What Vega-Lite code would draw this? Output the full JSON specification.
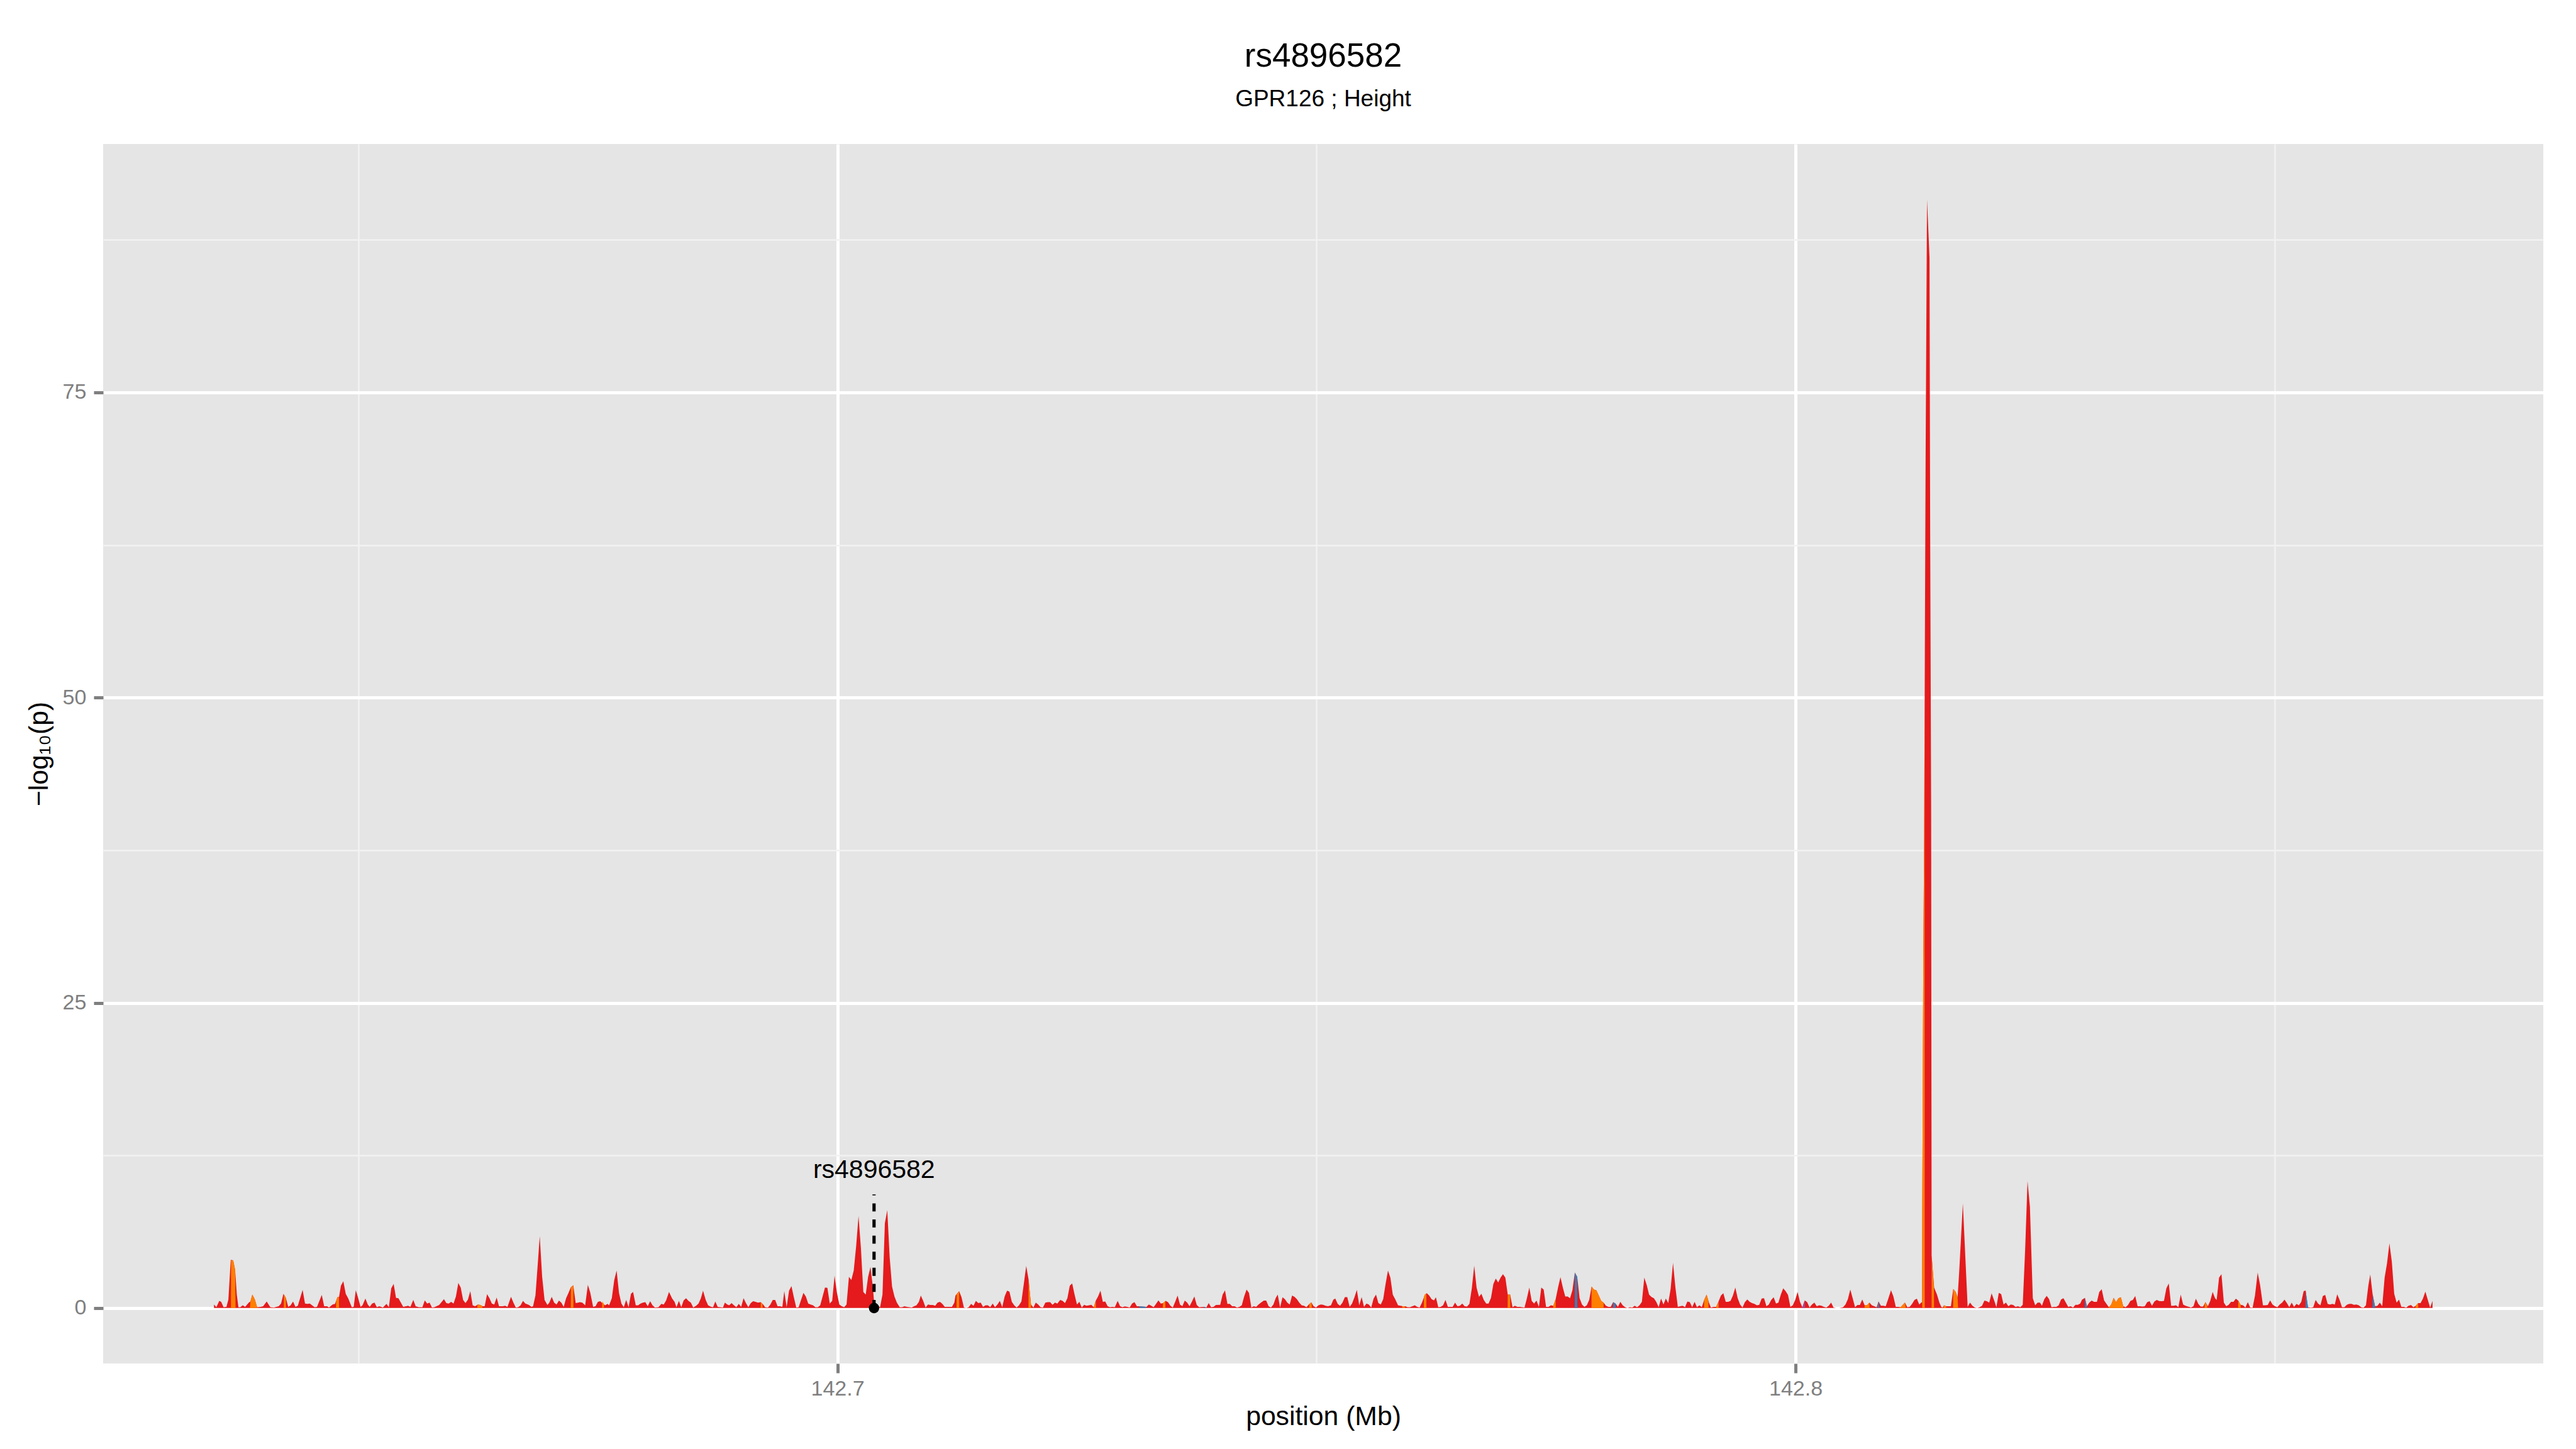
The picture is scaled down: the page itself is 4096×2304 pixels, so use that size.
{
"$schema": "https://vega.github.io/schema/vega-lite/v6.json",
"width": 3880,
"height": 1939,
"autosize": {"type": "none"},
"padding": {"left": 164, "top": 229, "right": 52, "bottom": 136},
"background": "white",
"config": {"view": {"fill": "#E5E5E5", "stroke": null}},
"title": {"text": "rs4896582", "subtitle": "GPR126 ; Height", "anchor": "middle", "frame": "group", "font": "Liberation Sans", "fontSize": 53, "fontWeight": "normal", "color": "#000000", "subtitleFont": "Liberation Sans", "subtitleFontSize": 37, "subtitleColor": "#000000", "subtitlePadding": 23, "offset": 53},
"datasets": {
"main": [
{"pos":142.63493,"p":0.29},{"pos":142.63518,"p":0.07},{"pos":142.63548,"p":0.59},{"pos":142.63568,"p":0.51},{"pos":142.63593,"p":0.07},{"pos":142.63623,"p":0.10},{"pos":142.63643,"p":0.69},{"pos":142.63668,"p":3.95},{"pos":142.63693,"p":3.91},{"pos":142.63713,"p":3.15},{"pos":142.63731,"p":1.10},{"pos":142.63748,"p":0.07},{"pos":142.63768,"p":0.07},{"pos":142.63793,"p":0.22},{"pos":142.63818,"p":0.10},{"pos":142.63856,"p":0.44},{"pos":142.63873,"p":0.54},{"pos":142.63893,"p":1.10},{"pos":142.63918,"p":0.73},{"pos":142.63943,"p":0.07},{"pos":142.63981,"p":0.10},{"pos":142.64006,"p":0.15},{"pos":142.64043,"p":0.54},{"pos":142.64081,"p":0.07},{"pos":142.64118,"p":0.04},{"pos":142.64168,"p":0.15},{"pos":142.64193,"p":0.37},{"pos":142.64218,"p":1.17},{"pos":142.64243,"p":0.83},{"pos":142.64268,"p":0.10},{"pos":142.64293,"p":0.22},{"pos":142.64318,"p":0.54},{"pos":142.64343,"p":0.10},{"pos":142.64368,"p":0.19},{"pos":142.64418,"p":1.49},{"pos":142.64443,"p":0.37},{"pos":142.64468,"p":0.34},{"pos":142.64493,"p":0.37},{"pos":142.64543,"p":0.07},{"pos":142.64568,"p":0.10},{"pos":142.64618,"p":1.07},{"pos":142.64643,"p":0.15},{"pos":142.64673,"p":0.15},{"pos":142.64693,"p":0.04},{"pos":142.64731,"p":0.29},{"pos":142.64756,"p":0.34},{"pos":142.64781,"p":0.88},{"pos":142.64798,"p":0.92},{"pos":142.64818,"p":1.83},{"pos":142.64843,"p":2.20},{"pos":142.64868,"p":1.17},{"pos":142.64893,"p":0.81},{"pos":142.64931,"p":0.07},{"pos":142.64951,"p":0.10},{"pos":142.64973,"p":1.46},{"pos":142.64993,"p":0.95},{"pos":142.65023,"p":0.10},{"pos":142.65043,"p":0.22},{"pos":142.65073,"p":0.78},{"pos":142.65098,"p":0.29},{"pos":142.65118,"p":0.10},{"pos":142.65143,"p":0.37},{"pos":142.65168,"p":0.44},{"pos":142.65193,"p":0.07},{"pos":142.65218,"p":0.15},{"pos":142.65256,"p":0.04},{"pos":142.65293,"p":0.34},{"pos":142.65318,"p":0.07},{"pos":142.65343,"p":1.61},{"pos":142.65368,"p":1.98},{"pos":142.65393,"p":0.83},{"pos":142.65418,"p":0.81},{"pos":142.65468,"p":0.10},{"pos":142.65518,"p":0.19},{"pos":142.65543,"p":0.10},{"pos":142.65573,"p":0.66},{"pos":142.65598,"p":0.15},{"pos":142.65631,"p":0.07},{"pos":142.65668,"p":0.07},{"pos":142.65693,"p":0.63},{"pos":142.65718,"p":0.37},{"pos":142.65743,"p":0.44},{"pos":142.65768,"p":0.04},{"pos":142.65793,"p":0.07},{"pos":142.65843,"p":0.25},{"pos":142.65893,"p":0.73},{"pos":142.65918,"p":0.40},{"pos":142.65943,"p":0.37},{"pos":142.65968,"p":0.51},{"pos":142.65993,"p":0.37},{"pos":142.66018,"p":0.95},{"pos":142.66043,"p":2.05},{"pos":142.66068,"p":1.68},{"pos":142.66093,"p":0.66},{"pos":142.66118,"p":0.40},{"pos":142.66143,"p":0.69},{"pos":142.66168,"p":1.39},{"pos":142.66193,"p":0.22},{"pos":142.66218,"p":0.15},{"pos":142.66248,"p":0.29},{"pos":142.66273,"p":0.25},{"pos":142.66298,"p":0.15},{"pos":142.66318,"p":0.15},{"pos":142.66343,"p":1.14},{"pos":142.66368,"p":0.81},{"pos":142.66393,"p":0.37},{"pos":142.66418,"p":0.29},{"pos":142.66443,"p":0.85},{"pos":142.66468,"p":0.15},{"pos":142.66506,"p":0.15},{"pos":142.66531,"p":0.19},{"pos":142.66556,"p":0.10},{"pos":142.66593,"p":0.92},{"pos":142.66618,"p":0.44},{"pos":142.66643,"p":0.04},{"pos":142.66668,"p":0.07},{"pos":142.66693,"p":0.22},{"pos":142.66718,"p":0.59},{"pos":142.66743,"p":0.37},{"pos":142.66781,"p":0.25},{"pos":142.66806,"p":0.10},{"pos":142.66823,"p":0.15},{"pos":142.66848,"p":1.02},{"pos":142.66868,"p":3.15},{"pos":142.66893,"p":5.89},{"pos":142.66918,"p":2.56},{"pos":142.66943,"p":0.66},{"pos":142.66973,"p":0.25},{"pos":142.66993,"p":0.44},{"pos":142.67018,"p":0.92},{"pos":142.67043,"p":0.44},{"pos":142.67068,"p":0.29},{"pos":142.67093,"p":0.61},{"pos":142.67118,"p":0.44},{"pos":142.67143,"p":0.10},{"pos":142.67168,"p":0.81},{"pos":142.67193,"p":1.24},{"pos":142.67218,"p":1.71},{"pos":142.67243,"p":1.86},{"pos":142.67268,"p":0.40},{"pos":142.67293,"p":0.44},
{"pos":142.67312,"p":0.48},{"pos":142.67337,"p":0.44},{"pos":142.67367,"p":0.22},{"pos":142.67395,"p":1.90},{"pos":142.67420,"p":1.27},{"pos":142.67450,"p":0.10},{"pos":142.67475,"p":0.15},{"pos":142.67500,"p":0.51},{"pos":142.67525,"p":0.56},{"pos":142.67550,"p":0.37},{"pos":142.67575,"p":0.22},{"pos":142.67600,"p":0.34},{"pos":142.67617,"p":0.22},{"pos":142.67645,"p":0.81},{"pos":142.67670,"p":2.27},{"pos":142.67695,"p":3.07},{"pos":142.67720,"p":1.24},{"pos":142.67745,"p":0.37},{"pos":142.67770,"p":0.07},{"pos":142.67795,"p":0.66},{"pos":142.67820,"p":0.07},{"pos":142.67845,"p":1.17},{"pos":142.67867,"p":1.32},{"pos":142.67895,"p":0.22},{"pos":142.67920,"p":0.22},{"pos":142.67945,"p":0.37},{"pos":142.67970,"p":0.44},{"pos":142.67995,"p":0.48},{"pos":142.68020,"p":0.15},{"pos":142.68045,"p":0.56},{"pos":142.68070,"p":0.22},{"pos":142.68095,"p":0.04},{"pos":142.68132,"p":0.07},{"pos":142.68162,"p":0.34},{"pos":142.68187,"p":0.29},{"pos":142.68212,"p":0.63},{"pos":142.68242,"p":1.32},{"pos":142.68275,"p":0.78},{"pos":142.68300,"p":0.51},{"pos":142.68320,"p":0.07},{"pos":142.68345,"p":0.59},{"pos":142.68370,"p":0.07},{"pos":142.68395,"p":0.63},{"pos":142.68420,"p":0.81},{"pos":142.68445,"p":0.59},{"pos":142.68470,"p":0.44},{"pos":142.68495,"p":0.04},{"pos":142.68525,"p":0.19},{"pos":142.68550,"p":0.37},{"pos":142.68575,"p":0.81},{"pos":142.68597,"p":1.42},{"pos":142.68625,"p":0.66},{"pos":142.68650,"p":0.22},{"pos":142.68682,"p":0.10},{"pos":142.68702,"p":0.07},{"pos":142.68725,"p":0.54},{"pos":142.68750,"p":0.10},{"pos":142.68775,"p":0.07},{"pos":142.68805,"p":0.04},{"pos":142.68825,"p":0.44},{"pos":142.68850,"p":0.29},{"pos":142.68870,"p":0.22},{"pos":142.68895,"p":0.40},{"pos":142.68920,"p":0.22},{"pos":142.68945,"p":0.07},{"pos":142.68970,"p":0.34},{"pos":142.68995,"p":0.10},{"pos":142.69020,"p":0.81},{"pos":142.69045,"p":0.40},{"pos":142.69070,"p":0.07},{"pos":142.69095,"p":0.40},{"pos":142.69120,"p":0.56},{"pos":142.69145,"p":0.51},{"pos":142.69170,"p":0.44},{"pos":142.69200,"p":0.48},{"pos":142.69225,"p":0.29},{"pos":142.69245,"p":0.07},{"pos":142.69275,"p":0.04},{"pos":142.69300,"p":0.29},{"pos":142.69325,"p":0.66},{"pos":142.69350,"p":0.66},{"pos":142.69375,"p":0.15},{"pos":142.69400,"p":0.15},{"pos":142.69425,"p":0.10},{"pos":142.69445,"p":1.39},{"pos":142.69470,"p":0.07},{"pos":142.69495,"p":1.42},{"pos":142.69520,"p":1.80},{"pos":142.69545,"p":0.88},{"pos":142.69570,"p":0.04},{"pos":142.69595,"p":0.07},{"pos":142.69620,"p":0.66},{"pos":142.69645,"p":1.24},{"pos":142.69670,"p":0.95},{"pos":142.69695,"p":0.37},{"pos":142.69720,"p":0.29},{"pos":142.69745,"p":0.22},{"pos":142.69770,"p":0.07},{"pos":142.69795,"p":0.07},{"pos":142.69820,"p":0.22},{"pos":142.69845,"p":0.95},{"pos":142.69870,"p":1.68},{"pos":142.69895,"p":1.65},{"pos":142.69920,"p":0.37},{"pos":142.69945,"p":0.59},{"pos":142.69970,"p":2.64},{"pos":142.69995,"p":1.24},{"pos":142.70020,"p":0.29},{"pos":142.70045,"p":0.15},{"pos":142.70070,"p":0.07},{"pos":142.70095,"p":0.29},{"pos":142.70120,"p":2.56},{"pos":142.70145,"p":2.30},{"pos":142.70170,"p":3.07},{"pos":142.70195,"p":5.05},{"pos":142.70220,"p":7.54},{"pos":142.70245,"p":4.90},{"pos":142.70270,"p":1.32},{"pos":142.70295,"p":1.10},{"pos":142.70320,"p":2.56},{"pos":142.70345,"p":3.37},{"pos":142.70370,"p":1.68},{"pos":142.70387,"p":0.07},{"pos":142.70420,"p":0.15},{"pos":142.70445,"p":0.07},{"pos":142.70470,"p":1.10},{"pos":142.70495,"p":6.95},{"pos":142.70520,"p":8.01},{"pos":142.70545,"p":4.17},{"pos":142.70570,"p":1.76},{"pos":142.70595,"p":0.95},{"pos":142.70620,"p":0.44},{"pos":142.70650,"p":0.07},{"pos":142.70675,"p":0.07},{"pos":142.70700,"p":0.15},{"pos":142.70725,"p":0.10},{"pos":142.70750,"p":0.07},{"pos":142.70775,"p":0.04},{"pos":142.70800,"p":0.15},{"pos":142.70825,"p":0.22},{"pos":142.70850,"p":0.51},{"pos":142.70870,"p":1.02},{"pos":142.70895,"p":0.59},{"pos":142.70920,"p":0.04},{"pos":142.70945,"p":0.29},{"pos":142.70970,"p":0.25},{"pos":142.70995,"p":0.25},{"pos":142.71020,"p":0.19},{"pos":142.71045,"p":0.44},{"pos":142.71070,"p":0.51},{"pos":142.71095,"p":0.34},{"pos":142.71120,"p":0.10},{"pos":142.71145,"p":0.10},{"pos":142.71170,"p":0.10},{"pos":142.71195,"p":0.10},{"pos":142.71220,"p":0.44},
{"pos":142.71232,"p":1.02},{"pos":142.71270,"p":1.39},{"pos":142.71295,"p":0.88},{"pos":142.71320,"p":0.04},{"pos":142.71345,"p":0.00},{"pos":142.71370,"p":0.07},{"pos":142.71395,"p":0.34},{"pos":142.71420,"p":0.19},{"pos":142.71445,"p":0.59},{"pos":142.71470,"p":0.40},{"pos":142.71495,"p":0.44},{"pos":142.71520,"p":0.10},{"pos":142.71545,"p":0.22},{"pos":142.71570,"p":0.22},{"pos":142.71595,"p":0.07},{"pos":142.71620,"p":0.37},{"pos":142.71645,"p":0.07},{"pos":142.71670,"p":0.29},{"pos":142.71695,"p":0.59},{"pos":142.71720,"p":0.07},{"pos":142.71745,"p":0.95},{"pos":142.71770,"p":1.42},{"pos":142.71795,"p":1.35},{"pos":142.71820,"p":0.51},{"pos":142.71845,"p":0.22},{"pos":142.71870,"p":0.04},{"pos":142.71895,"p":0.22},{"pos":142.71920,"p":0.54},{"pos":142.71945,"p":1.98},{"pos":142.71970,"p":3.44},{"pos":142.71995,"p":2.34},{"pos":142.72020,"p":0.29},{"pos":142.72045,"p":0.04},{"pos":142.72070,"p":0.44},{"pos":142.72095,"p":0.29},{"pos":142.72120,"p":0.07},{"pos":142.72145,"p":0.04},{"pos":142.72170,"p":0.44},{"pos":142.72195,"p":0.48},{"pos":142.72220,"p":0.48},{"pos":142.72245,"p":0.26},{"pos":142.72270,"p":0.44},{"pos":142.72295,"p":0.37},{"pos":142.72325,"p":0.66},{"pos":142.72350,"p":0.59},{"pos":142.72375,"p":0.40},{"pos":142.72400,"p":0.81},{"pos":142.72425,"p":1.83},{"pos":142.72450,"p":2.01},{"pos":142.72475,"p":1.10},{"pos":142.72500,"p":0.29},{"pos":142.72525,"p":0.51},{"pos":142.72550,"p":0.04},{"pos":142.72575,"p":0.26},{"pos":142.72600,"p":0.19},{"pos":142.72625,"p":0.22},{"pos":142.72650,"p":0.26},{"pos":142.72675,"p":0.07},{"pos":142.72695,"p":0.59},{"pos":142.72720,"p":0.95},{"pos":142.72745,"p":1.42},{"pos":142.72770,"p":0.51},{"pos":142.72795,"p":0.54},{"pos":142.72820,"p":0.15},{"pos":142.72845,"p":0.07},{"pos":142.72870,"p":0.10},{"pos":142.72895,"p":0.07},{"pos":142.72925,"p":0.59},{"pos":142.72950,"p":0.15},{"pos":142.72975,"p":0.07},{"pos":142.73000,"p":0.13},{"pos":142.73025,"p":0.10},{"pos":142.73050,"p":0.04},{"pos":142.73075,"p":0.37},{"pos":142.73100,"p":0.48},{"pos":142.73125,"p":0.15},{"pos":142.73150,"p":0.15},{"pos":142.73225,"p":0.10},{"pos":142.73250,"p":0.29},{"pos":142.73275,"p":0.19},{"pos":142.73300,"p":0.07},{"pos":142.73325,"p":0.34},{"pos":142.73350,"p":0.63},{"pos":142.73375,"p":0.37},{"pos":142.73400,"p":0.40},{"pos":142.73425,"p":0.59},{"pos":142.73450,"p":0.48},{"pos":142.73475,"p":0.19},{"pos":142.73500,"p":0.04},{"pos":142.73525,"p":0.51},{"pos":142.73550,"p":1.02},{"pos":142.73575,"p":0.29},{"pos":142.73600,"p":0.15},{"pos":142.73625,"p":0.61},{"pos":142.73650,"p":0.44},{"pos":142.73675,"p":0.15},{"pos":142.73700,"p":0.54},{"pos":142.73725,"p":0.95},{"pos":142.73750,"p":0.25},{"pos":142.73775,"p":0.07},{"pos":142.73825,"p":0.10},{"pos":142.73850,"p":0.04},{"pos":142.73875,"p":0.40},{"pos":142.73900,"p":0.07},{"pos":142.73925,"p":0.10},{"pos":142.73950,"p":0.25},{"pos":142.73995,"p":0.26},{"pos":142.74020,"p":1.10},{"pos":142.74045,"p":1.45},{"pos":142.74070,"p":0.34},{"pos":142.74095,"p":0.34},{"pos":142.74120,"p":0.15},{"pos":142.74145,"p":0.15},{"pos":142.74170,"p":0.04},{"pos":142.74195,"p":0.10},{"pos":142.74220,"p":0.22},{"pos":142.74245,"p":0.95},{"pos":142.74270,"p":1.51},{"pos":142.74295,"p":1.24},{"pos":142.74320,"p":0.04},{"pos":142.74345,"p":0.15},{"pos":142.74370,"p":0.10},{"pos":142.74395,"p":0.29},{"pos":142.74420,"p":0.44},{"pos":142.74450,"p":0.61},{"pos":142.74475,"p":0.61},{"pos":142.74500,"p":0.15},{"pos":142.74525,"p":0.04},{"pos":142.74550,"p":0.29},{"pos":142.74575,"p":0.83},{"pos":142.74595,"p":1.10},{"pos":142.74620,"p":0.04},{"pos":142.74645,"p":0.88},{"pos":142.74670,"p":0.73},{"pos":142.74695,"p":0.44},{"pos":142.74720,"p":0.29},{"pos":142.74745,"p":1.02},{"pos":142.74770,"p":0.92},{"pos":142.74795,"p":0.73},{"pos":142.74820,"p":0.44},{"pos":142.74845,"p":0.22},{"pos":142.74870,"p":0.19},{"pos":142.74895,"p":0.07},{"pos":142.74920,"p":0.29},{"pos":142.74945,"p":0.47},{"pos":142.74970,"p":0.15},{"pos":142.74995,"p":0.04},{"pos":142.75020,"p":0.22},{"pos":142.75045,"p":0.29},{"pos":142.75070,"p":0.26},{"pos":142.75095,"p":0.19},{"pos":142.75120,"p":0.15},
{"pos":142.75151,"p":0.22},{"pos":142.75176,"p":0.69},{"pos":142.75196,"p":0.78},{"pos":142.75221,"p":0.34},{"pos":142.75246,"p":0.19},{"pos":142.75271,"p":0.44},{"pos":142.75296,"p":0.89},{"pos":142.75321,"p":0.89},{"pos":142.75346,"p":0.10},{"pos":142.75371,"p":0.37},{"pos":142.75396,"p":0.88},{"pos":142.75421,"p":1.49},{"pos":142.75446,"p":0.22},{"pos":142.75471,"p":0.89},{"pos":142.75496,"p":0.10},{"pos":142.75521,"p":0.37},{"pos":142.75546,"p":0.29},{"pos":142.75571,"p":0.04},{"pos":142.75596,"p":0.78},{"pos":142.75621,"p":1.10},{"pos":142.75646,"p":0.40},{"pos":142.75671,"p":0.29},{"pos":142.75696,"p":0.73},{"pos":142.75721,"p":1.98},{"pos":142.75746,"p":3.07},{"pos":142.75771,"p":2.49},{"pos":142.75796,"p":1.10},{"pos":142.75821,"p":0.73},{"pos":142.75851,"p":0.22},{"pos":142.75876,"p":0.19},{"pos":142.75901,"p":0.15},{"pos":142.75926,"p":0.15},{"pos":142.75951,"p":0.07},{"pos":142.75976,"p":0.07},{"pos":142.76001,"p":0.15},{"pos":142.76026,"p":0.22},{"pos":142.76051,"p":0.10},{"pos":142.76076,"p":0.04},{"pos":142.76101,"p":0.44},{"pos":142.76131,"p":1.10},{"pos":142.76151,"p":1.22},{"pos":142.76176,"p":1.02},{"pos":142.76201,"p":0.73},{"pos":142.76226,"p":0.63},{"pos":142.76246,"p":0.88},{"pos":142.76271,"p":0.07},{"pos":142.76296,"p":0.10},{"pos":142.76321,"p":0.22},{"pos":142.76346,"p":0.66},{"pos":142.76371,"p":0.10},{"pos":142.76396,"p":0.10},{"pos":142.76421,"p":0.10},{"pos":142.76446,"p":0.44},{"pos":142.76471,"p":0.15},{"pos":142.76496,"p":0.19},{"pos":142.76521,"p":0.37},{"pos":142.76546,"p":0.15},{"pos":142.76571,"p":0.12},{"pos":142.76596,"p":0.34},{"pos":142.76621,"p":1.61},{"pos":142.76646,"p":3.47},{"pos":142.76671,"p":1.65},{"pos":142.76696,"p":0.92},{"pos":142.76721,"p":1.17},{"pos":142.76746,"p":0.66},{"pos":142.76771,"p":0.37},{"pos":142.76796,"p":0.37},{"pos":142.76821,"p":0.83},{"pos":142.76846,"p":1.98},{"pos":142.76871,"p":2.42},{"pos":142.76896,"p":2.09},{"pos":142.76921,"p":2.49},{"pos":142.76946,"p":2.78},{"pos":142.76971,"p":2.49},{"pos":142.76996,"p":1.10},{"pos":142.77021,"p":1.10},{"pos":142.77046,"p":0.07},{"pos":142.77071,"p":0.19},{"pos":142.77096,"p":0.10},{"pos":142.77121,"p":0.10},{"pos":142.77146,"p":0.07},{"pos":142.77171,"p":0.04},{"pos":142.77196,"p":0.81},{"pos":142.77221,"p":1.68},{"pos":142.77246,"p":0.59},{"pos":142.77271,"p":0.37},{"pos":142.77296,"p":0.61},{"pos":142.77321,"p":0.10},{"pos":142.77346,"p":1.68},{"pos":142.77371,"p":1.51},{"pos":142.77396,"p":0.10},{"pos":142.77421,"p":0.10},{"pos":142.77446,"p":0.22},{"pos":142.77471,"p":0.19},{"pos":142.77496,"p":0.73},{"pos":142.77521,"p":1.68},{"pos":142.77546,"p":2.53},{"pos":142.77571,"p":1.68},{"pos":142.77596,"p":0.95},{"pos":142.77621,"p":0.95},{"pos":142.77646,"p":0.81},{"pos":142.77671,"p":1.46},{"pos":142.77696,"p":2.90},{"pos":142.77721,"p":2.56},{"pos":142.77746,"p":0.81},{"pos":142.77771,"p":0.29},{"pos":142.77796,"p":0.10},{"pos":142.77821,"p":0.22},{"pos":142.77846,"p":0.66},{"pos":142.77871,"p":1.76},{"pos":142.77896,"p":1.51},{"pos":142.77921,"p":1.45},{"pos":142.77946,"p":1.02},{"pos":142.77971,"p":0.59},{"pos":142.77996,"p":0.44},{"pos":142.78021,"p":0.19},{"pos":142.78046,"p":0.10},{"pos":142.78071,"p":0.10},{"pos":142.78096,"p":0.48},{"pos":142.78121,"p":0.37},{"pos":142.78146,"p":0.10},{"pos":142.78171,"p":0.51},{"pos":142.78196,"p":0.22},{"pos":142.78221,"p":0.07},{"pos":142.78246,"p":0.00},{"pos":142.78271,"p":0.07},{"pos":142.78296,"p":0.04},{"pos":142.78321,"p":0.19},{"pos":142.78346,"p":0.07},{"pos":142.78371,"p":0.22},{"pos":142.78396,"p":0.51},{"pos":142.78421,"p":2.49},{"pos":142.78446,"p":1.90},{"pos":142.78471,"p":1.10},{"pos":142.78496,"p":0.91},{"pos":142.78521,"p":0.81},{"pos":142.78546,"p":0.51},{"pos":142.78571,"p":0.07},{"pos":142.78596,"p":0.78},{"pos":142.78621,"p":0.29},{"pos":142.78646,"p":0.78},{"pos":142.78671,"p":0.40},{"pos":142.78696,"p":1.57},{"pos":142.78721,"p":3.70},{"pos":142.78746,"p":1.68},{"pos":142.78771,"p":0.10},{"pos":142.78796,"p":0.15},{"pos":142.78821,"p":0.18},{"pos":142.78846,"p":0.07},{"pos":142.78871,"p":0.54},{"pos":142.78896,"p":0.48},{"pos":142.78921,"p":0.07},{"pos":142.78946,"p":0.51},{"pos":142.78971,"p":0.07},{"pos":142.78996,"p":0.22},{"pos":142.79021,"p":0.07},{"pos":142.79046,"p":0.66},
{"pos":142.79071,"p":1.10},{"pos":142.79096,"p":0.44},{"pos":142.79116,"p":0.04},{"pos":142.79146,"p":0.10},{"pos":142.79171,"p":0.10},{"pos":142.79196,"p":0.54},{"pos":142.79221,"p":1.02},{"pos":142.79246,"p":1.22},{"pos":142.79271,"p":0.51},{"pos":142.79296,"p":0.51},{"pos":142.79321,"p":0.59},{"pos":142.79346,"p":1.02},{"pos":142.79371,"p":1.68},{"pos":142.79396,"p":0.81},{"pos":142.79421,"p":0.29},{"pos":142.79446,"p":0.04},{"pos":142.79471,"p":0.48},{"pos":142.79496,"p":0.70},{"pos":142.79521,"p":0.51},{"pos":142.79546,"p":0.40},{"pos":142.79571,"p":0.34},{"pos":142.79596,"p":0.22},{"pos":142.79621,"p":0.26},{"pos":142.79646,"p":0.78},{"pos":142.79671,"p":0.81},{"pos":142.79696,"p":0.15},{"pos":142.79721,"p":0.29},{"pos":142.79746,"p":0.66},{"pos":142.79771,"p":0.88},{"pos":142.79796,"p":0.37},{"pos":142.79821,"p":0.44},{"pos":142.79846,"p":1.10},{"pos":142.79871,"p":1.61},{"pos":142.79896,"p":1.39},{"pos":142.79921,"p":1.07},{"pos":142.79946,"p":0.10},{"pos":142.79971,"p":0.22},{"pos":142.79996,"p":0.66},{"pos":142.80021,"p":1.32},{"pos":142.80046,"p":0.51},{"pos":142.80071,"p":0.07},{"pos":142.80096,"p":0.63},{"pos":142.80121,"p":0.48},{"pos":142.80146,"p":0.04},{"pos":142.80171,"p":0.29},{"pos":142.80196,"p":0.44},{"pos":142.80221,"p":0.15},{"pos":142.80246,"p":0.22},{"pos":142.80271,"p":0.19},{"pos":142.80296,"p":0.10},{"pos":142.80321,"p":0.04},{"pos":142.80346,"p":0.19},{"pos":142.80371,"p":0.44},{"pos":142.80396,"p":0.04},{"pos":142.80421,"p":0.00},{"pos":142.80458,"p":0.00},{"pos":142.80496,"p":0.07},{"pos":142.80521,"p":0.29},{"pos":142.80546,"p":0.73},{"pos":142.80571,"p":1.51},{"pos":142.80596,"p":0.81},{"pos":142.80621,"p":0.07},{"pos":142.80646,"p":0.25},{"pos":142.80671,"p":0.25},{"pos":142.80696,"p":0.70},{"pos":142.80721,"p":0.22},{"pos":142.80746,"p":0.22},{"pos":142.80771,"p":0.44},{"pos":142.80796,"p":0.22},{"pos":142.80821,"p":0.15},{"pos":142.80846,"p":0.07},{"pos":142.80866,"p":0.54},{"pos":142.80891,"p":0.19},{"pos":142.80916,"p":0.19},{"pos":142.80941,"p":0.15},{"pos":142.80966,"p":0.73},{"pos":142.80996,"p":1.46},{"pos":142.81021,"p":0.95},{"pos":142.81046,"p":0.10},{"pos":142.81071,"p":0.10},{"pos":142.81096,"p":0.07},{"pos":142.81141,"p":0.44},{"pos":142.81166,"p":0.07},{"pos":142.81191,"p":0.10},{"pos":142.81216,"p":0.34},{"pos":142.81241,"p":0.66},{"pos":142.81266,"p":0.76},{"pos":142.81291,"p":0.29},{"pos":142.81316,"p":0.48},{"pos":142.81321,"p":0.40},{"pos":142.81323,"p":8.9},{"pos":142.81333,"p":28.6},{"pos":142.81342,"p":38.5},{"pos":142.81357,"p":69.3},{"pos":142.81372,"p":90.8},{"pos":142.81398,"p":86.0},{"pos":142.81405,"p":63.2},{"pos":142.81415,"p":40.4},{"pos":142.81420,"p":4.3},{"pos":142.81446,"p":1.68},{"pos":142.81476,"p":1.10},{"pos":142.81501,"p":0.44},{"pos":142.81521,"p":0.10},{"pos":142.81533,"p":0.04},{"pos":142.81551,"p":0.22},{"pos":142.81571,"p":0.15},{"pos":142.81621,"p":0.15},{"pos":142.81646,"p":1.57},{"pos":142.81671,"p":1.32},{"pos":142.81691,"p":0.88},{"pos":142.81708,"p":3.00},{"pos":142.81746,"p":8.57},{"pos":142.81771,"p":4.32},{"pos":142.81796,"p":0.10},{"pos":142.81821,"p":0.44},{"pos":142.81846,"p":0.19},{"pos":142.81871,"p":0.04},{"pos":142.81896,"p":0.00},{"pos":142.81921,"p":0.07},{"pos":142.81946,"p":0.19},{"pos":142.81971,"p":0.61},{"pos":142.81996,"p":0.56},{"pos":142.82021,"p":0.44},{"pos":142.82046,"p":1.20},{"pos":142.82071,"p":0.66},{"pos":142.82096,"p":0.07},{"pos":142.82121,"p":1.24},{"pos":142.82146,"p":1.14},{"pos":142.82171,"p":0.29},{"pos":142.82196,"p":0.44},{"pos":142.82221,"p":0.15},{"pos":142.82246,"p":0.29},{"pos":142.82271,"p":0.25},{"pos":142.82296,"p":0.10},{"pos":142.82321,"p":0.15},{"pos":142.82346,"p":0.07},{"pos":142.82371,"p":0.26},{"pos":142.82396,"p":4.76},{"pos":142.82421,"p":10.40},{"pos":142.82446,"p":8.27},{"pos":142.82476,"p":0.81},{"pos":142.82501,"p":0.22},{"pos":142.82526,"p":0.44},{"pos":142.82551,"p":0.44},{"pos":142.82571,"p":0.19},{"pos":142.82596,"p":0.73},{"pos":142.82621,"p":1.00},{"pos":142.82646,"p":0.73},{"pos":142.82671,"p":0.07},{"pos":142.82696,"p":0.10},{"pos":142.82721,"p":0.10},{"pos":142.82746,"p":0.22},{"pos":142.82771,"p":0.70},{"pos":142.82796,"p":0.81},{"pos":142.82821,"p":0.44},{"pos":142.82846,"p":0.10},{"pos":142.82871,"p":0.15},{"pos":142.82896,"p":0.04},{"pos":142.82921,"p":0.26},{"pos":142.82946,"p":0.26},{"pos":142.82971,"p":0.37},
{"pos":142.82990,"p":0.69},{"pos":142.83020,"p":0.83},{"pos":142.83040,"p":0.15},{"pos":142.83065,"p":0.44},{"pos":142.83090,"p":0.61},{"pos":142.83115,"p":0.51},{"pos":142.83145,"p":0.51},{"pos":142.83170,"p":1.32},{"pos":142.83195,"p":1.54},{"pos":142.83220,"p":0.63},{"pos":142.83245,"p":0.34},{"pos":142.83270,"p":0.07},{"pos":142.83295,"p":0.29},{"pos":142.83320,"p":0.83},{"pos":142.83345,"p":0.48},{"pos":142.83370,"p":0.81},{"pos":142.83395,"p":0.88},{"pos":142.83420,"p":0.15},{"pos":142.83445,"p":0.07},{"pos":142.83470,"p":0.25},{"pos":142.83495,"p":0.59},{"pos":142.83520,"p":0.66},{"pos":142.83545,"p":0.98},{"pos":142.83570,"p":0.15},{"pos":142.83595,"p":0.15},{"pos":142.83620,"p":0.12},{"pos":142.83645,"p":0.15},{"pos":142.83670,"p":0.48},{"pos":142.83695,"p":0.56},{"pos":142.83720,"p":0.19},{"pos":142.83745,"p":0.54},{"pos":142.83770,"p":0.66},{"pos":142.83795,"p":0.57},{"pos":142.83820,"p":0.56},{"pos":142.83845,"p":0.59},{"pos":142.83870,"p":1.61},{"pos":142.83895,"p":2.02},{"pos":142.83920,"p":0.19},{"pos":142.83945,"p":0.19},{"pos":142.83970,"p":0.22},{"pos":142.83995,"p":0.07},{"pos":142.84020,"p":1.10},{"pos":142.84045,"p":0.29},{"pos":142.84070,"p":0.19},{"pos":142.84095,"p":0.12},{"pos":142.84128,"p":0.04},{"pos":142.84153,"p":0.15},{"pos":142.84178,"p":0.76},{"pos":142.84203,"p":0.34},{"pos":142.84228,"p":0.12},{"pos":142.84253,"p":0.12},{"pos":142.84278,"p":0.48},{"pos":142.84303,"p":0.15},{"pos":142.84328,"p":0.59},{"pos":142.84353,"p":1.32},{"pos":142.84378,"p":0.81},{"pos":142.84395,"p":0.66},{"pos":142.84420,"p":2.49},{"pos":142.84445,"p":2.78},{"pos":142.84470,"p":0.44},{"pos":142.84495,"p":0.15},{"pos":142.84520,"p":0.26},{"pos":142.84545,"p":0.51},{"pos":142.84570,"p":0.51},{"pos":142.84595,"p":0.76},{"pos":142.84620,"p":0.61},{"pos":142.84645,"p":0.26},{"pos":142.84670,"p":0.22},{"pos":142.84695,"p":0.04},{"pos":142.84720,"p":0.48},{"pos":142.84745,"p":0.04},{"pos":142.84770,"p":0.03},{"pos":142.84795,"p":1.02},{"pos":142.84823,"p":2.90},{"pos":142.84848,"p":1.90},{"pos":142.84878,"p":0.22},{"pos":142.84903,"p":0.22},{"pos":142.84928,"p":0.25},{"pos":142.84953,"p":0.63},{"pos":142.84978,"p":0.29},{"pos":142.85003,"p":0.15},{"pos":142.85028,"p":0.07},{"pos":142.85053,"p":0.29},{"pos":142.85078,"p":0.44},{"pos":142.85103,"p":0.69},{"pos":142.85128,"p":0.40},{"pos":142.85153,"p":0.07},{"pos":142.85178,"p":0.44},{"pos":142.85203,"p":0.10},{"pos":142.85228,"p":0.34},{"pos":142.85253,"p":0.22},{"pos":142.85278,"p":0.51},{"pos":142.85303,"p":1.39},{"pos":142.85323,"p":1.43},{"pos":142.85348,"p":0.07},{"pos":142.85378,"p":0.03},{"pos":142.85403,"p":0.07},{"pos":142.85428,"p":0.66},{"pos":142.85453,"p":0.37},{"pos":142.85478,"p":0.22},{"pos":142.85503,"p":0.98},{"pos":142.85528,"p":1.07},{"pos":142.85553,"p":0.34},{"pos":142.85578,"p":0.29},{"pos":142.85603,"p":0.34},{"pos":142.85628,"p":0.29},{"pos":142.85653,"p":1.13},{"pos":142.85678,"p":0.66},{"pos":142.85703,"p":0.07},{"pos":142.85728,"p":0.07},{"pos":142.85753,"p":0.26},{"pos":142.85778,"p":0.34},{"pos":142.85803,"p":0.34},{"pos":142.85828,"p":0.26},{"pos":142.85853,"p":0.29},{"pos":142.85878,"p":0.22},{"pos":142.85903,"p":0.07},{"pos":142.85928,"p":0.03},{"pos":142.85953,"p":0.22},{"pos":142.85978,"p":1.83},{"pos":142.85998,"p":2.75},{"pos":142.86023,"p":1.10},{"pos":142.86048,"p":0.15},{"pos":142.86073,"p":0.19},{"pos":142.86098,"p":0.44},{"pos":142.86123,"p":0.15},{"pos":142.86148,"p":2.49},{"pos":142.86173,"p":3.66},{"pos":142.86198,"p":5.30},{"pos":142.86223,"p":3.81},{"pos":142.86248,"p":1.17},{"pos":142.86273,"p":0.44},{"pos":142.86298,"p":0.69},{"pos":142.86323,"p":0.10},{"pos":142.86348,"p":0.10},{"pos":142.86373,"p":0.03},{"pos":142.86398,"p":0.19},{"pos":142.86423,"p":0.25},{"pos":142.86448,"p":0.07},{"pos":142.86473,"p":0.19},{"pos":142.86498,"p":0.40},{"pos":142.86523,"p":0.40},{"pos":142.86548,"p":0.78},{"pos":142.86573,"p":1.35},{"pos":142.86598,"p":0.69},{"pos":142.86623,"p":0.03},{"pos":142.86648,"p":0.59}
],
"ov": [
{"pos":142.63670,"p":0,"g":"o1","c":"o"},{"pos":142.63671,"p":3.93,"g":"o1","c":"o"},{"pos":142.63693,"p":3.91,"g":"o1","c":"o"},{"pos":142.63713,"p":3.15,"g":"o1","c":"o"},{"pos":142.63718,"p":0,"g":"o1","c":"o"},
{"pos":142.63868,"p":0,"g":"o2","c":"o"},{"pos":142.63873,"p":0.54,"g":"o2","c":"o"},{"pos":142.63893,"p":1.10,"g":"o2","c":"o"},{"pos":142.63918,"p":0.73,"g":"o2","c":"o"},{"pos":142.63943,"p":0.07,"g":"o2","c":"o"},{"pos":142.63950,"p":0,"g":"o2","c":"o"},
{"pos":142.64222,"p":0,"g":"o4","c":"o"},{"pos":142.64223,"p":1.12,"g":"o4","c":"o"},{"pos":142.64243,"p":0.83,"g":"o4","c":"o"},{"pos":142.64244,"p":0,"g":"o4","c":"o"},
{"pos":142.64767,"p":0,"g":"o5","c":"o"},{"pos":142.64768,"p":0.55,"g":"o5","c":"o"},{"pos":142.64781,"p":0.88,"g":"o5","c":"o"},{"pos":142.64797,"p":0.92,"g":"o5","c":"o"},{"pos":142.64798,"p":0,"g":"o5","c":"o"},
{"pos":142.66242,"p":0,"g":"o7","c":"o"},{"pos":142.66243,"p":0.28,"g":"o7","c":"o"},{"pos":142.66268,"p":0.26,"g":"o7","c":"o"},{"pos":142.66293,"p":0.16,"g":"o7","c":"o"},{"pos":142.66294,"p":0,"g":"o7","c":"o"},
{"pos":142.67217,"p":0,"g":"o8","c":"o"},{"pos":142.67218,"p":1.71,"g":"o8","c":"o"},{"pos":142.67243,"p":1.86,"g":"o8","c":"o"},{"pos":142.67244,"p":0,"g":"o8","c":"o"},
{"pos":142.67544,"p":0,"g":"o9","c":"o"},{"pos":142.67545,"p":0.55,"g":"o9","c":"o"},{"pos":142.67562,"p":0.35,"g":"o9","c":"o"},{"pos":142.67563,"p":0,"g":"o9","c":"o"},
{"pos":142.69199,"p":0,"g":"o10","c":"o"},{"pos":142.69200,"p":0.48,"g":"o10","c":"o"},{"pos":142.69217,"p":0.35,"g":"o10","c":"o"},{"pos":142.69218,"p":0,"g":"o10","c":"o"},
{"pos":142.71243,"p":0,"g":"o11","c":"o"},{"pos":142.71244,"p":1.10,"g":"o11","c":"o"},{"pos":142.71270,"p":1.39,"g":"o11","c":"o"},{"pos":142.71271,"p":0,"g":"o11","c":"o"},
{"pos":142.71994,"p":0,"g":"o12","c":"o"},{"pos":142.71995,"p":2.34,"g":"o12","c":"o"},{"pos":142.72020,"p":0.29,"g":"o12","c":"o"},{"pos":142.72021,"p":0,"g":"o12","c":"o"},
{"pos":142.72676,"p":0,"g":"o13","c":"o"},{"pos":142.72677,"p":0.10,"g":"o13","c":"o"},{"pos":142.72697,"p":0.60,"g":"o13","c":"o"},{"pos":142.72698,"p":0,"g":"o13","c":"o"},
{"pos":142.73149,"p":0,"g":"b1","c":"b"},{"pos":142.73150,"p":0.15,"g":"b1","c":"b"},{"pos":142.73225,"p":0.10,"g":"b1","c":"b"},{"pos":142.73226,"p":0,"g":"b1","c":"b"},
{"pos":142.73396,"p":0,"g":"o14","c":"o"},{"pos":142.73397,"p":0.41,"g":"o14","c":"o"},{"pos":142.73422,"p":0.59,"g":"o14","c":"o"},{"pos":142.73423,"p":0,"g":"o14","c":"o"},
{"pos":142.73824,"p":0,"g":"b2","c":"b"},{"pos":142.73825,"p":0.10,"g":"b2","c":"b"},{"pos":142.73845,"p":0.07,"g":"b2","c":"b"},{"pos":142.73846,"p":0,"g":"b2","c":"b"},
{"pos":142.74924,"p":0,"g":"o16","c":"o"},{"pos":142.74925,"p":0.31,"g":"o16","c":"o"},{"pos":142.74945,"p":0.47,"g":"o16","c":"o"},{"pos":142.74950,"p":0.30,"g":"o16","c":"o"},{"pos":142.74951,"p":0,"g":"o16","c":"o"},
{"pos":142.75895,"p":0,"g":"o17","c":"o"},{"pos":142.75896,"p":0.15,"g":"o17","c":"o"},{"pos":142.75921,"p":0.15,"g":"o17","c":"o"},{"pos":142.75922,"p":0,"g":"o17","c":"o"},
{"pos":142.76120,"p":0,"g":"o18","c":"o"},{"pos":142.76121,"p":0.92,"g":"o18","c":"o"},{"pos":142.76131,"p":1.10,"g":"o18","c":"o"},{"pos":142.76146,"p":1.20,"g":"o18","c":"o"},{"pos":142.76147,"p":0,"g":"o18","c":"o"},
{"pos":142.76995,"p":0,"g":"o19","c":"o"},{"pos":142.76996,"p":1.10,"g":"o19","c":"o"},{"pos":142.77021,"p":1.10,"g":"o19","c":"o"},{"pos":142.77022,"p":0,"g":"o19","c":"o"},
{"pos":142.77470,"p":0,"g":"o20","c":"o"},{"pos":142.77471,"p":0.19,"g":"o20","c":"o"},{"pos":142.77496,"p":0.73,"g":"o20","c":"o"},{"pos":142.77497,"p":0,"g":"o20","c":"o"},
{"pos":142.77695,"p":0,"g":"b4","c":"b"},{"pos":142.77696,"p":2.90,"g":"b4","c":"b"},{"pos":142.77721,"p":2.56,"g":"b4","c":"b"},{"pos":142.77722,"p":0,"g":"b4","c":"b"},
{"pos":142.77870,"p":0,"g":"o21","c":"o"},{"pos":142.77871,"p":1.76,"g":"o21","c":"o"},{"pos":142.77896,"p":1.51,"g":"o21","c":"o"},{"pos":142.77921,"p":1.45,"g":"o21","c":"o"},{"pos":142.77946,"p":1.02,"g":"o21","c":"o"},{"pos":142.77971,"p":0.59,"g":"o21","c":"o"},{"pos":142.77996,"p":0.44,"g":"o21","c":"o"},{"pos":142.77997,"p":0,"g":"o21","c":"o"},
{"pos":142.78095,"p":0,"g":"b5","c":"b"},{"pos":142.78096,"p":0.48,"g":"b5","c":"b"},{"pos":142.78121,"p":0.37,"g":"b5","c":"b"},{"pos":142.78122,"p":0,"g":"b5","c":"b"},
{"pos":142.79045,"p":0,"g":"o22","c":"o"},{"pos":142.79046,"p":0.66,"g":"o22","c":"o"},{"pos":142.79071,"p":1.10,"g":"o22","c":"o"},{"pos":142.79090,"p":0.60,"g":"o22","c":"o"},{"pos":142.79091,"p":0,"g":"o22","c":"o"},
{"pos":142.79170,"p":0,"g":"o23","c":"o"},{"pos":142.79171,"p":0.10,"g":"o23","c":"o"},{"pos":142.79196,"p":0.54,"g":"o23","c":"o"},{"pos":142.79197,"p":0,"g":"o23","c":"o"},
{"pos":142.80070,"p":0,"g":"p1","c":"p"},{"pos":142.80071,"p":0.07,"g":"p1","c":"p"},{"pos":142.80096,"p":0.63,"g":"p1","c":"p"},{"pos":142.80097,"p":0,"g":"p1","c":"p"},
{"pos":142.80720,"p":0,"g":"o25","c":"o"},{"pos":142.80721,"p":0.22,"g":"o25","c":"o"},{"pos":142.80746,"p":0.22,"g":"o25","c":"o"},{"pos":142.80771,"p":0.44,"g":"o25","c":"o"},{"pos":142.80772,"p":0,"g":"o25","c":"o"},
{"pos":142.80852,"p":0,"g":"b6","c":"b"},{"pos":142.80853,"p":0.10,"g":"b6","c":"b"},{"pos":142.80866,"p":0.54,"g":"b6","c":"b"},{"pos":142.80871,"p":0.40,"g":"b6","c":"b"},{"pos":142.80872,"p":0,"g":"b6","c":"b"},
{"pos":142.81083,"p":0,"g":"o26","c":"o"},{"pos":142.81096,"p":0.07,"g":"o26","c":"o"},{"pos":142.81141,"p":0.44,"g":"o26","c":"o"},{"pos":142.81151,"p":0,"g":"o26","c":"o"},
{"pos":142.81322,"p":0,"g":"o27","c":"o"},{"pos":142.81323,"p":8.9,"g":"o27","c":"o"},{"pos":142.81333,"p":28.6,"g":"o27","c":"o"},{"pos":142.81342,"p":38.5,"g":"o27","c":"o"},{"pos":142.81347,"p":50.0,"g":"o27","c":"o"},{"pos":142.81348,"p":0,"g":"o27","c":"o"},
{"pos":142.81420,"p":0,"g":"o28","c":"o"},{"pos":142.81421,"p":4.3,"g":"o28","c":"o"},{"pos":142.81444,"p":1.6,"g":"o28","c":"o"},{"pos":142.81445,"p":0,"g":"o28","c":"o"},
{"pos":142.81545,"p":0,"g":"o29","c":"o"},{"pos":142.81546,"p":0.22,"g":"o29","c":"o"},{"pos":142.81571,"p":0.15,"g":"o29","c":"o"},{"pos":142.81572,"p":0,"g":"o29","c":"o"},
{"pos":142.81645,"p":0,"g":"o30","c":"o"},{"pos":142.81646,"p":1.57,"g":"o30","c":"o"},{"pos":142.81671,"p":1.32,"g":"o30","c":"o"},{"pos":142.81691,"p":0.88,"g":"o30","c":"o"},{"pos":142.81696,"p":0,"g":"o30","c":"o"},
{"pos":142.83019,"p":0,"g":"b7","c":"b"},{"pos":142.83020,"p":0.83,"g":"b7","c":"b"},{"pos":142.83040,"p":0.15,"g":"b7","c":"b"},{"pos":142.83041,"p":0,"g":"b7","c":"b"},
{"pos":142.83270,"p":0,"g":"o31","c":"o"},{"pos":142.83271,"p":0.07,"g":"o31","c":"o"},{"pos":142.83295,"p":0.29,"g":"o31","c":"o"},{"pos":142.83320,"p":0.83,"g":"o31","c":"o"},{"pos":142.83345,"p":0.48,"g":"o31","c":"o"},{"pos":142.83370,"p":0.81,"g":"o31","c":"o"},{"pos":142.83395,"p":0.88,"g":"o31","c":"o"},{"pos":142.83420,"p":0.15,"g":"o31","c":"o"},{"pos":142.83421,"p":0,"g":"o31","c":"o"},
{"pos":142.84269,"p":0,"g":"o32","c":"o"},{"pos":142.84270,"p":0.30,"g":"o32","c":"o"},{"pos":142.84278,"p":0.48,"g":"o32","c":"o"},{"pos":142.84295,"p":0.20,"g":"o32","c":"o"},{"pos":142.84296,"p":0,"g":"o32","c":"o"},
{"pos":142.84619,"p":0,"g":"o33","c":"o"},{"pos":142.84620,"p":0.61,"g":"o33","c":"o"},{"pos":142.84645,"p":0.26,"g":"o33","c":"o"},{"pos":142.84646,"p":0,"g":"o33","c":"o"},
{"pos":142.85322,"p":0,"g":"b8","c":"b"},{"pos":142.85323,"p":1.43,"g":"b8","c":"b"},{"pos":142.85348,"p":0.07,"g":"b8","c":"b"},{"pos":142.85349,"p":0,"g":"b8","c":"b"},
{"pos":142.86022,"p":0,"g":"b9","c":"b"},{"pos":142.86023,"p":1.10,"g":"b9","c":"b"},{"pos":142.86048,"p":0.15,"g":"b9","c":"b"},{"pos":142.86049,"p":0,"g":"b9","c":"b"},
{"pos":142.86472,"p":0,"g":"o34","c":"o"},{"pos":142.86473,"p":0.19,"g":"o34","c":"o"},{"pos":142.86498,"p":0.40,"g":"o34","c":"o"},{"pos":142.86499,"p":0,"g":"o34","c":"o"}
],
"lead": [{"pos":142.70382,"y0":0,"top":9.3,"ly":10.65,"label":"rs4896582"}]
},
"layer": [
{"data": {"name": "main"}, "mark": {"type": "area", "color": "#E41A1C", "interpolate": "linear"},
 "encoding": {
  "x": {"field": "pos", "type": "quantitative", "scale": {"domain": [142.62336, 142.87804], "nice": false, "zero": false},
   "axis": {"values": [142.65, 142.7, 142.75, 142.8, 142.85], "domain": false, "grid": true,
    "gridColor": {"condition": {"test": "abs(datum.value*10-round(datum.value*10))<0.001", "value": "#FFFFFF"}, "value": "#F2F2F2"},
    "gridWidth": {"condition": {"test": "abs(datum.value*10-round(datum.value*10))<0.001", "value": 5}, "value": 2.5},
    "tickSize": 15, "tickColor": "#7F7F7F",
    "tickWidth": {"condition": {"test": "abs(datum.value*10-round(datum.value*10))<0.001", "value": 5}, "value": 0},
    "labelExpr": "abs(datum.value*10-round(datum.value*10))<0.001 ? format(datum.value, '.1f') : ''",
    "labelFont": "Liberation Sans", "labelFontSize": 34.1, "labelColor": "#7F7F7F", "labelPadding": 8.5, "labelOverlap": false, "labelFlush": false, "labelBound": false,
    "title": "position (Mb)", "titleFont": "Liberation Sans", "titleFontSize": 42.7, "titleFontWeight": "normal", "titleColor": "#000000", "titleX": 1940, "titleY": 97, "titleBaseline": "alphabetic", "titleAlign": "center"}},
  "y": {"field": "p", "type": "quantitative", "stack": null, "scale": {"domain": [-4.54, 95.34], "nice": false, "zero": false},
   "axis": {"values": [0, 12.5, 25, 37.5, 50, 62.5, 75, 87.5], "domain": false, "grid": true,
    "gridColor": {"condition": {"test": "datum.value % 25 == 0", "value": "#FFFFFF"}, "value": "#F2F2F2"},
    "gridWidth": {"condition": {"test": "datum.value % 25 == 0", "value": 5}, "value": 2.5},
    "tickSize": 15, "tickColor": "#7F7F7F",
    "tickWidth": {"condition": {"test": "datum.value % 25 == 0", "value": 5}, "value": 0},
    "labelExpr": "datum.value % 25 == 0 ? format(datum.value, 'd') : ''",
    "labelFont": "Liberation Sans", "labelFontSize": 34.1, "labelColor": "#7F7F7F", "labelPadding": 12, "labelOverlap": false, "labelFlush": false, "labelBound": false,
    "title": "−log₁₀(p)", "titleFont": "Liberation Sans", "titleFontSize": 42.7, "titleFontWeight": "normal", "titleColor": "#000000", "titleX": -88.6, "titleY": 969.5, "titleAngle": 270, "titleBaseline": "alphabetic", "titleAlign": "center"}}
 }},
{"data": {"name": "ov"}, "mark": {"type": "area", "interpolate": "linear"},
 "encoding": {
  "x": {"field": "pos", "type": "quantitative"},
  "y": {"field": "p", "type": "quantitative", "stack": null},
  "color": {"field": "c", "type": "nominal", "scale": {"domain": ["o", "b", "p"], "range": ["#FF7F00", "#377EB8", "#984EA3"]}, "legend": null},
  "detail": {"field": "g", "type": "nominal"}
 }},
{"data": {"name": "lead"}, "mark": {"type": "rule", "color": "#000000", "strokeWidth": 5.1, "strokeDash": [12.8, 12.8]},
 "encoding": {"x": {"field": "pos", "type": "quantitative"}, "y": {"field": "y0", "type": "quantitative"}, "y2": {"field": "top"}}},
{"data": {"name": "lead"}, "mark": {"type": "point", "filled": true, "color": "#000000", "opacity": 1, "size": 275},
 "encoding": {"x": {"field": "pos", "type": "quantitative"}, "y": {"field": "y0", "type": "quantitative"}}},
{"data": {"name": "lead"}, "mark": {"type": "text", "font": "Liberation Sans", "fontSize": 41, "baseline": "alphabetic", "align": "center", "color": "#000000"},
 "encoding": {"x": {"field": "pos", "type": "quantitative"}, "y": {"field": "ly", "type": "quantitative"}, "text": {"field": "label"}}}
]
}
